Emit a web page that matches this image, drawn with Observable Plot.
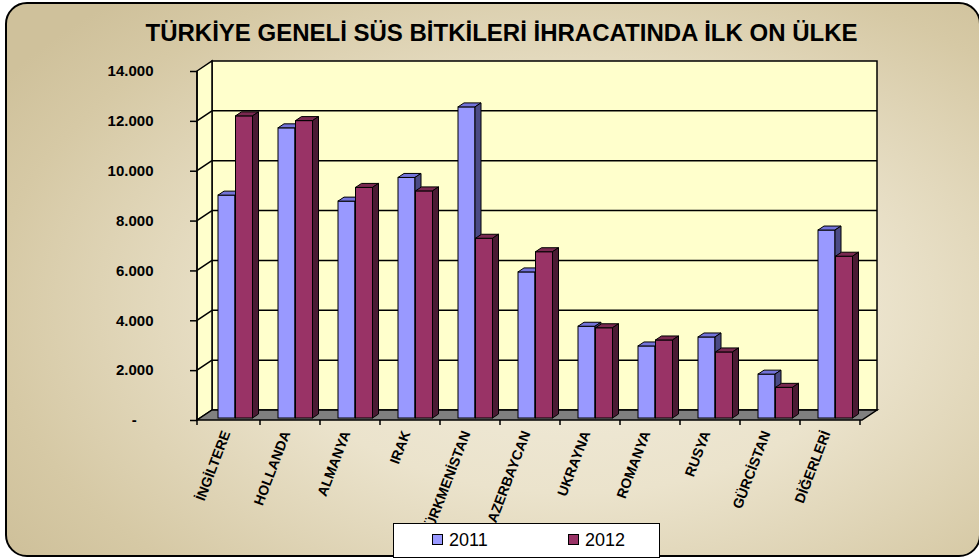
<!DOCTYPE html>
<html><head><meta charset="utf-8">
<script src="https://cdn.jsdelivr.net/npm/d3@7"></script>
<script src="https://cdn.jsdelivr.net/npm/@observablehq/plot@0.6"></script>
<style>
body{margin:0;background:#fff;font-family:"Liberation Sans",Arial,sans-serif;}
#wrap{position:relative;width:979px;height:560px;overflow:hidden;}
#panel{position:absolute;left:5px;top:2px;width:976px;height:555px;box-sizing:border-box;border:2px solid #000;border-radius:22px;
 background:radial-gradient(ellipse 70% 75% at 58% 55%, #f2eddd 0%, #ebe3cc 45%, #d6c9a5 85%, #cfc19b 100%);}
#title{position:absolute;left:12px;top:21px;width:979px;text-align:center;font-weight:bold;font-size:24px;line-height:24px;color:#000;white-space:nowrap;}
#chart{position:absolute;left:0;top:50px;}
#legend{position:absolute;left:393px;top:523px;width:267px;height:35px;box-sizing:border-box;background:#fff;border:1.5px solid #000;}
.item{position:absolute;top:7px;font-size:18px;line-height:18px;color:#000;}
.sw{display:inline-block;width:9px;height:9px;border:1px solid #000;margin-right:6px;vertical-align:1px;}
</style></head><body>
<div id="wrap">
 <div id="panel"></div>
 <div id="title"></div>
 <div id="chart"></div>
 <div id="legend"></div>
</div>
<script>
const title = "TÜRKİYE GENELİ SÜS BİTKİLERİ İHRACATINDA İLK ON ÜLKE";
const countries = ["İNGİLTERE","HOLLANDA","ALMANYA","IRAK","TÜRKMENİSTAN","AZERBAYCAN","UKRAYNA","ROMANYA","RUSYA","GÜRCİSTAN","DİĞERLERİ"];
const years = ["2011","2012"];
const values2011 = [8940, 11640, 8700, 9650, 12480, 5860, 3680, 2890, 3250, 1760, 7540];
const values2012 = [12120, 11930, 9250, 9110, 7210, 6670, 3620, 3130, 2650, 1230, 6490];
const yTicks = [0, 2000, 4000, 6000, 8000, 10000, 12000, 14000];
const yMax = 14000;

const frontColors = ["#9999FF", "#993366"];
const topColors = ["#7373d9", "#7a2951"];
const sideColors = ["#4b4b85", "#4a1a33"];

const data2011 = countries.map((c, i) => ({country: c, year: years[0], value: values2011[i]}));
const data2012 = countries.map((c, i) => ({country: c, year: years[1], value: values2012[i]}));

document.getElementById("title").textContent = title;

const W = 979, H = 510, mL = 197, mR = 117, mT = 21, mB = 140;
const DX = 15, DY = -10;     // wall depth
const BDX = 6, BDY = -4;     // bar depth
const BOX = 5, BOY = -2;     // bar offset (mid depth)
const insets = [[13, 30], [30.5, 12.5]];

const NS = "http://www.w3.org/2000/svg";
function el(name, attrs) {
  const e = document.createElementNS(NS, name);
  for (const k in attrs) e.setAttribute(k, attrs[k]);
  return e;
}
function bandStart(scales, c) { return scales.x(c); }
function bandWidth(scales, dims) {
  return typeof scales.x.bandwidth === "function" ? scales.x.bandwidth() : (dims.width - dims.marginLeft - dims.marginRight) / countries.length;
}

function walls(index, scales, values, dims) {
  const g = el("g", {});
  const x0 = dims.marginLeft, x1 = dims.width - dims.marginRight;
  const y0 = scales.y(0), yTop = scales.y(yMax);
  g.append(el("rect", {x: x0 + DX, y: yTop + DY, width: x1 - x0, height: y0 - yTop, fill: "#FFFFCC", stroke: "#000", "stroke-width": 1.5}));
  g.append(el("polygon", {points: `${x0},${yTop} ${x0 + DX},${yTop + DY} ${x0 + DX},${y0 + DY} ${x0},${y0}`, fill: "#FFFFCC", stroke: "#000", "stroke-width": 1.5}));
  for (const t of yTicks) {
    if (t === 0 || t === yMax) continue;
    const y = scales.y(t);
    g.append(el("line", {x1: x0 + DX, y1: y + DY, x2: x1 + DX, y2: y + DY, stroke: "#000", "stroke-width": 1.5}));
    g.append(el("line", {x1: x0, y1: y, x2: x0 + DX, y2: y + DY, stroke: "#000", "stroke-width": 1.5}));
  }
  g.append(el("polygon", {points: `${x0},${y0} ${x1},${y0} ${x1 + DX},${y0 + DY} ${x0 + DX},${y0 + DY}`, fill: "#808080", stroke: "#000", "stroke-width": 1.5}));
  g.append(el("line", {x1: x0, y1: yTop, x2: x0, y2: y0 + 5, stroke: "#000", "stroke-width": 1.5}));
  const bw = bandWidth(scales, dims);
  countries.forEach((c, i) => {
    const xs = bandStart(scales, c);
    g.append(el("line", {x1: xs + bw, y1: y0, x2: xs + bw, y2: y0 + 5, stroke: "#000", "stroke-width": 1.5}));
  });
  return g;
}

function faces(rows, k) {
  return (index, scales, values, dims) => {
    const g = el("g", {transform: `translate(${BOX},${BOY})`});
    const bw = bandWidth(scales, dims);
    for (const d of rows) {
      const x = bandStart(scales, d.country) + insets[k][0];
      const w = bw - insets[k][0] - insets[k][1];
      const y = scales.y(d.value), yb = scales.y(0), h = yb - y;
      g.append(el("polygon", {points: `${x},${y} ${x + w},${y} ${x + w + BDX},${y + BDY} ${x + BDX},${y + BDY}`, fill: topColors[k], stroke: "#000", "stroke-width": 1}));
      g.append(el("polygon", {points: `${x + w},${y} ${x + w + BDX},${y + BDY} ${x + w + BDX},${y + h + BDY} ${x + w},${y + h}`, fill: sideColors[k], stroke: "#000", "stroke-width": 1}));
    }
    return g;
  };
}

const fmt = d => d === 0 ? "-\u2007\u2007" : d3.format(",")(d).replace(/,/g, ".");

const chart = Plot.plot({
  width: W, height: H,
  marginLeft: mL, marginRight: mR, marginTop: mT, marginBottom: mB,
  style: {background: "transparent", fontFamily: "'Liberation Sans', Arial, sans-serif", color: "#000", overflow: "visible"},
  x: {domain: countries, padding: 0},
  y: {domain: [0, yMax]},
  marks: [
    walls,
    Plot.barY(data2011, {x: "country", y: "value", fill: frontColors[0], stroke: "#000", strokeWidth: 1, insetLeft: insets[0][0], insetRight: insets[0][1], dx: BOX, dy: BOY}),
    faces(data2011, 0),
    Plot.barY(data2012, {x: "country", y: "value", fill: frontColors[1], stroke: "#000", strokeWidth: 1, insetLeft: insets[1][0], insetRight: insets[1][1], dx: BOX, dy: BOY}),
    faces(data2012, 1),
    Plot.axisY({ticks: yTicks, tickFormat: fmt, tickSize: 7, tickPadding: 37, fontSize: 15, fontWeight: "bold", label: null, strokeWidth: 1.5}),
    Plot.axisX({tickSize: 0, tickRotate: -69, tickPadding: 11, fontSize: 14, fontWeight: "bold", label: null, dx: -4})
  ]
});
document.getElementById("chart").append(chart);

const legend = document.getElementById("legend");
const legendX = [38, 174];
years.forEach((yr, k) => {
  const item = document.createElement("div");
  item.className = "item";
  item.style.left = legendX[k] + "px";
  const sw = document.createElement("span");
  sw.className = "sw";
  sw.style.background = frontColors[k];
  item.append(sw, document.createTextNode(yr));
  legend.append(item);
});
</script>
</body></html>
